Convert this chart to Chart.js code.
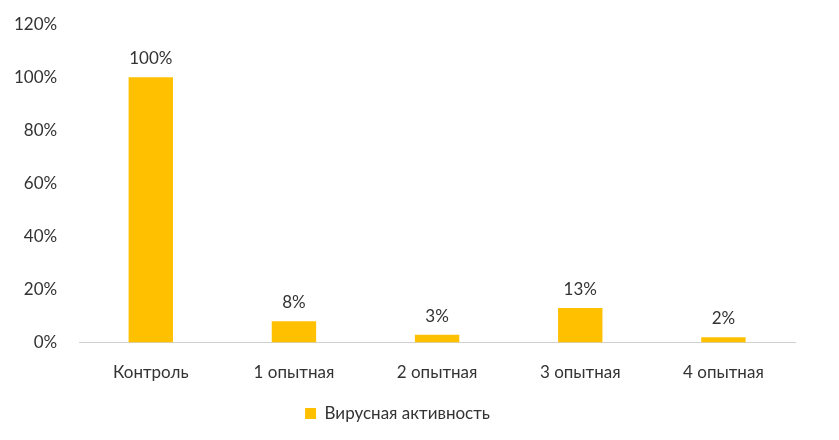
<!DOCTYPE html>
<html><head><meta charset="utf-8">
<script src="https://cdn.jsdelivr.net/npm/chart.js"></script>
<style>html,body{margin:0;padding:0;background:#fff}#w{width:839px;height:440px}</style>
</head><body><div id="w"><canvas id="c"></canvas></div>
<script>
const categories=["Контроль","1 опытная","2 опытная","3 опытная","4 опытная"];
const values=[100,8,3,13,2];
const seriesName="Вирусная активность";
Chart.defaults.font.family="Lato, 'Noto Sans', sans-serif";
Chart.defaults.font.size=17;
Chart.defaults.color="#333";
const labelsPlugin={id:"lbl",afterDatasetsDraw(ch){const ctx=ch.ctx;const m=ch.getDatasetMeta(0);ctx.save();ctx.font="17px Lato, 'Noto Sans', sans-serif";ctx.fillStyle="#333";ctx.textAlign="center";ctx.textBaseline="bottom";m.data.forEach((b,i)=>{ctx.fillText(values[i]+"%",b.x,b.y-10);});ctx.restore();}};
new Chart(document.getElementById("c"),{type:"bar",data:{labels:categories,datasets:[{label:seriesName,data:values,backgroundColor:"#FFC000",categoryPercentage:1,barPercentage:0.31}]},
options:{responsive:true,maintainAspectRatio:false,animation:false,layout:{padding:{left:0,right:44,top:12,bottom:8}},
plugins:{legend:{position:"bottom",labels:{boxWidth:11,boxHeight:11,padding:10}},tooltip:{enabled:false}},
scales:{y:{min:0,max:120,ticks:{stepSize:20,callback:v=>v+"%",padding:14},grid:{display:false},border:{display:false}},
x:{grid:{display:false},border:{color:"#d0d0d0"},ticks:{padding:12}}}},plugins:[labelsPlugin]});
</script></body></html>
